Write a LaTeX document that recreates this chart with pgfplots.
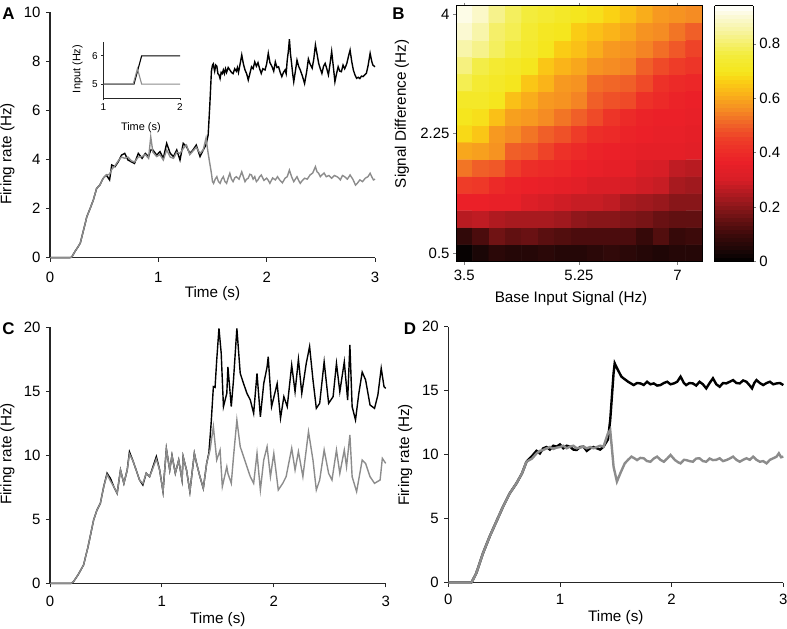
\documentclass[border=0pt]{standalone}
\usepackage{fontspec}
\setmainfont{Liberation Sans}
\usepackage{pgfplots}
\pgfplotsset{compat=1.18}
\pgfkeys{/pgf/number format/assume math mode=true}
\definecolor{tgray}{RGB}{140,140,140}
\pgfplotsset{
  myaxis/.style={scale only axis, anchor=south west, axis lines=left,
    axis line style={-, line width=1.1bp, black!85},
    tick align=outside, major tick length=4bp, tick style={line width=0.9bp, black!85},
    ticklabel style={font=\fontsize{15}{17}\selectfont},
    yticklabel style={xshift=-2bp},
    label style={font=\fontsize{15.3}{18}\selectfont}, clip=false},
}
\begin{document}
\begin{tikzpicture}
\path[use as bounding box] (0,0) rectangle (787bp,629bp);
% ---------------- Panel A
\begin{axis}[myaxis, at={(50bp,371.3bp)}, width=325bp, height=245.4bp,
  xmin=0, xmax=3, ymin=0, ymax=10, xtick={0,1,2,3}, ytick={0,2,4,6,8,10},
  xticklabel style={yshift=-7bp},
  xlabel={Time (s)}, ylabel={Firing rate (Hz)},
  xlabel style={at={(axis description cs:0.5,-0.145)}, anchor=center},
  ylabel style={at={(axis description cs:-0.131,0.423)}, anchor=center}]
\addplot[black, line width=1.4bp] coordinates {
(0,0) (0.18,0) (0.2,0.02) (0.23,0.25) (0.26,0.45) (0.28,0.6) (0.31,1.13) (0.34,1.67) (0.37,2.0) (0.40,2.35) (0.43,2.82) (0.46,2.96) (0.49,3.23) (0.52,3.37)
(0.55,3.17) (0.57,3.78) (0.60,3.71) (0.63,3.91) (0.66,4.18) (0.69,4.25) (0.72,3.98) (0.75,3.91) (0.78,3.84) (0.815,4.25) (0.85,4.05) (0.88,4.25) (0.91,4.12) (0.93,4.39) (0.95,4.39) (0.985,4.18) (1.015,4.32) (1.046,4.05) (1.077,4.66) (1.11,4.25) (1.14,4.12) (1.17,4.39) (1.2,3.98) (1.23,4.66) (1.26,4.53) (1.29,4.25) (1.32,4.39) (1.35,4.59) (1.385,4.12) (1.415,4.39) (1.44,4.6) (1.46,5.0) (1.475,6.2) (1.49,7.6) (1.5,7.85)
(1.508,7.9) (1.515,7.7) (1.52,7.6) (1.53,7.85) (1.54,7.8) (1.55,7.5) (1.56,7.45) (1.57,7.3) (1.58,7.55) (1.59,7.5) (1.60,7.65) (1.61,7.5) (1.62,7.7) (1.63,7.55) (1.645,7.75) (1.66,7.65) (1.675,7.55) (1.69,7.5) (1.705,7.7) (1.72,7.6) (1.73,7.75) (1.74,7.55) (1.755,7.9) (1.77,8.26) (1.785,7.9) (1.80,7.65) (1.815,7.5) (1.83,7.24) (1.845,7.5) (1.86,7.78) (1.875,7.7) (1.89,7.98) (1.905,7.8) (1.92,7.95) (1.935,7.7) (1.95,7.51) (1.965,7.7) (1.985,7.65) (2.0,7.9) (2.015,8.33) (2.03,7.95) (2.05,7.78) (2.065,7.6) (2.08,7.98) (2.095,7.75) (2.11,7.78) (2.125,7.55) (2.14,7.38) (2.155,7.55) (2.17,7.65) (2.18,7.5) (2.19,8.06) (2.2,8.4) (2.21,8.9) (2.22,8.3) (2.23,7.92) (2.24,7.5) (2.25,7.17) (2.265,7.6) (2.28,8.05) (2.295,7.8) (2.31,7.65) (2.33,7.4) (2.35,7.1) (2.37,7.6) (2.385,8.1) (2.40,7.9) (2.42,7.72) (2.435,8.1) (2.45,8.67) (2.465,8.3) (2.48,7.92) (2.495,7.7) (2.51,7.51) (2.525,7.8) (2.54,7.92) (2.555,7.7) (2.57,7.45) (2.585,7.9) (2.60,8.4) (2.615,7.8) (2.63,7.17) (2.645,7.5) (2.66,7.78) (2.675,7.6) (2.69,7.58) (2.705,7.85) (2.72,7.7) (2.73,7.8) (2.74,7.92) (2.755,8.2) (2.77,8.46) (2.785,8.0) (2.80,7.65) (2.815,7.45) (2.83,7.31) (2.845,7.35) (2.86,7.3) (2.875,7.4) (2.89,7.38) (2.905,7.45) (2.92,7.51) (2.935,7.8) (2.955,8.33) (2.97,8.0) (2.98,7.85) (3.0,7.78)};
\addplot[tgray, line width=1.4bp] coordinates {
(0,0) (0.18,0) (0.2,0.02) (0.23,0.25) (0.26,0.45) (0.28,0.6) (0.31,1.13) (0.34,1.67) (0.37,2.0) (0.40,2.35) (0.43,2.82) (0.46,2.96) (0.49,3.23) (0.52,3.37)
(0.55,3.4) (0.57,3.6) (0.60,3.75) (0.63,3.95) (0.66,4.1) (0.69,4.05) (0.72,4.1) (0.75,3.95) (0.78,3.9) (0.815,4.1) (0.85,4.12) (0.88,4.2) (0.91,4.05) (0.93,4.92) (0.95,4.3) (0.985,4.12) (1.015,4.2) (1.046,3.98) (1.077,4.39) (1.11,4.1) (1.14,4.05) (1.17,4.3) (1.2,4.25) (1.23,4.45) (1.26,4.59) (1.29,4.2) (1.32,4.35) (1.35,4.5) (1.385,4.25) (1.415,4.4) (1.44,4.87) (1.46,4.25) (1.49,3.44) (1.50,3.1)
(1.51,3.03) (1.525,3.2) (1.54,3.30) (1.555,3.1) (1.57,3.03) (1.585,3.2) (1.60,3.30) (1.615,3.1) (1.63,3.03) (1.645,3.25) (1.66,3.44) (1.675,3.2) (1.69,3.10) (1.705,3.25) (1.72,3.30) (1.745,3.2) (1.77,3.5) (1.785,3.3) (1.80,3.10) (1.815,3.2) (1.83,3.24) (1.845,3.4) (1.86,3.37) (1.875,3.2) (1.89,3.30) (1.905,3.1) (1.92,3.17) (1.935,3.3) (1.95,3.37) (1.975,3.15) (2.0,3.24) (2.015,3.15) (2.03,3.03) (2.055,3.25) (2.08,3.17) (2.10,3.3) (2.12,3.17) (2.145,3.05) (2.17,3.24) (2.19,3.3) (2.21,3.57) (2.23,3.3) (2.25,3.10) (2.265,3.2) (2.28,3.30) (2.295,3.15) (2.31,3.03) (2.33,3.15) (2.35,3.24) (2.375,3.2) (2.40,3.37) (2.425,3.45) (2.45,3.71) (2.465,3.5) (2.48,3.44) (2.495,3.3) (2.51,3.37) (2.53,3.45) (2.55,3.30) (2.575,3.35) (2.60,3.24) (2.625,3.35) (2.65,3.30) (2.665,3.25) (2.68,3.17) (2.70,3.35) (2.72,3.30) (2.745,3.2) (2.77,3.37) (2.795,3.2) (2.82,2.96) (2.84,3.05) (2.86,3.17) (2.885,3.1) (2.91,3.24) (2.935,3.3) (2.955,3.44) (2.97,3.3) (2.985,3.17) (3.0,3.2)};
\end{axis}
% ---------------- Inset
\begin{axis}[scale only axis, anchor=south west, at={(103.3bp,530.7bp)}, width=76.7bp, height=56.6bp,
  axis lines=left, axis line style={-, line width=0.8bp, black!85}, tick style={line width=0.7bp, black!85},
  xmin=1, xmax=2, ymin=4.5, ymax=6.5, xtick={1,2}, ytick={5,6},
  tick align=outside, major tick length=2bp,
  ticklabel style={font=\fontsize{10}{12}\selectfont},
  label style={font=\fontsize{11}{13}\selectfont},
  xlabel={Time (s)}, ylabel={Input (Hz)},
  xlabel style={at={(axis description cs:0.49,-0.516)}, anchor=center},
  ylabel style={at={(axis description cs:-0.336,0.518)}, anchor=center}, clip=false]
\addplot[black, line width=1.1bp] coordinates {(1,5) (1.4,5) (1.5,6) (2,6)};
\addplot[tgray, line width=1.1bp] coordinates {(1,5) (1.39,5) (1.445,5.55) (1.5,5) (2,5)};
\end{axis}
% ---------------- Panel B
\begin{axis}[scale only axis, anchor=south west, at={(456bp,367.3bp)}, width=246bp, height=256bp,
  xmin=-0.5, xmax=14.5, ymin=-0.5, ymax=14.5, enlargelimits=false, axis on top,
  xtick={0,7,13}, xticklabels={3.5,5.25,7}, ytick={0,7,14}, yticklabels={0.5,2.25,4},
  ytick pos=left, tick align=outside, major tick length=3bp,
  axis line style={line width=0.6bp}, tick style={line width=0.6bp},
  ticklabel style={font=\fontsize{15}{17}\selectfont},
  xticklabel style={yshift=-2bp},
  label style={font=\fontsize{15.3}{18}\selectfont},
  xlabel={Base Input Signal (Hz)}, ylabel={Signal Difference (Hz)},
  xlabel style={at={(axis description cs:0.4675,-0.1445)}, anchor=center},
  ylabel style={at={(axis description cs:-0.2195,0.578)}, anchor=center},
  colormap={heat}{rgb255(0bp)=(0,0,0); rgb255(3bp)=(20,5,5); rgb255(10bp)=(60,10,10); rgb255(18bp)=(120,20,22); rgb255(23bp)=(160,25,30); rgb255(30bp)=(215,30,38); rgb255(37bp)=(235,32,40); rgb255(45bp)=(238,60,40); rgb255(50bp)=(240,95,40); rgb255(56bp)=(245,140,35); rgb255(62bp)=(250,180,25); rgb255(67bp)=(250,210,20); rgb255(70bp)=(245,230,30); rgb255(76bp)=(243,236,60); rgb255(84bp)=(247,243,150); rgb255(91bp)=(252,250,220); rgb255(94bp)=(255,255,255)},
  point meta min=0, point meta max=0.94,
  colorbar sampled,
  colorbar style={at={(parent axis.north east)}, anchor=north west, xshift=4bp,
    scale only axis, width=38.3bp, height=256bp, samples=64,
    ytick={0,0.2,0.4,0.6,0.8}, yticklabel pos=right, ytick pos=right,
    tick align=outside, major tick length=3bp,
    axis line style={line width=0.6bp}, tick style={line width=0.6bp},
    yticklabel style={font=\fontsize{15}{17}\selectfont, /pgf/number format/fixed}}]
\addplot[matrix plot*, mesh/cols=15, point meta=explicit] coordinates {
(0,0)[0.01] (1,0)[0.04] (2,0)[0.07] (3,0)[0.06] (4,0)[0.06] (5,0)[0.07] (6,0)[0.06] (7,0)[0.06] (8,0)[0.07] (9,0)[0.08] (10,0)[0.07] (11,0)[0.06] (12,0)[0.05] (13,0)[0.06] (14,0)[0.06]

(0,1)[0.08] (1,1)[0.12] (2,1)[0.17] (3,1)[0.15] (4,1)[0.16] (5,1)[0.14] (6,1)[0.13] (7,1)[0.12] (8,1)[0.12] (9,1)[0.12] (10,1)[0.12] (11,1)[0.09] (12,1)[0.13] (13,1)[0.09] (14,1)[0.10]

(0,2)[0.26] (1,2)[0.27] (2,2)[0.25] (3,2)[0.24] (4,2)[0.24] (5,2)[0.24] (6,2)[0.23] (7,2)[0.21] (8,2)[0.20] (9,2)[0.20] (10,2)[0.19] (11,2)[0.18] (12,2)[0.16] (13,2)[0.15] (14,2)[0.15]

(0,3)[0.37] (1,3)[0.37] (2,3)[0.36] (3,3)[0.36] (4,3)[0.32] (5,3)[0.30] (6,3)[0.29] (7,3)[0.28] (8,3)[0.28] (9,3)[0.27] (10,3)[0.24] (11,3)[0.23] (12,3)[0.22] (13,3)[0.20] (14,3)[0.20]

(0,4)[0.45] (1,4)[0.44] (2,4)[0.40] (3,4)[0.38] (4,4)[0.37] (5,4)[0.36] (6,4)[0.35] (7,4)[0.34] (8,4)[0.31] (9,4)[0.31] (10,4)[0.30] (11,4)[0.29] (12,4)[0.28] (13,4)[0.24] (14,4)[0.23]

(0,5)[0.53] (1,5)[0.50] (2,5)[0.49] (3,5)[0.45] (4,5)[0.41] (5,5)[0.40] (6,5)[0.39] (7,5)[0.37] (8,5)[0.36] (9,5)[0.35] (10,5)[0.35] (11,5)[0.31] (12,5)[0.30] (13,5)[0.27] (14,5)[0.26]

(0,6)[0.60] (1,6)[0.59] (2,6)[0.57] (3,6)[0.50] (4,6)[0.49] (5,6)[0.46] (6,6)[0.42] (7,6)[0.40] (8,6)[0.38] (9,6)[0.37] (10,6)[0.36] (11,6)[0.35] (12,6)[0.35] (13,6)[0.35] (14,6)[0.34]

(0,7)[0.68] (1,7)[0.65] (2,7)[0.58] (3,7)[0.56] (4,7)[0.53] (5,7)[0.50] (6,7)[0.48] (7,7)[0.45] (8,7)[0.41] (9,7)[0.40] (10,7)[0.38] (11,7)[0.37] (12,7)[0.36] (13,7)[0.36] (14,7)[0.35]

(0,8)[0.70] (1,8)[0.69] (2,8)[0.64] (3,8)[0.59] (4,8)[0.58] (5,8)[0.56] (6,8)[0.53] (7,8)[0.50] (8,8)[0.47] (9,8)[0.43] (10,8)[0.40] (11,8)[0.38] (12,8)[0.37] (13,8)[0.37] (14,8)[0.36]

(0,9)[0.72] (1,9)[0.72] (2,9)[0.70] (3,9)[0.64] (4,9)[0.61] (5,9)[0.58] (6,9)[0.57] (7,9)[0.55] (8,9)[0.50] (9,9)[0.48] (10,9)[0.47] (11,9)[0.42] (12,9)[0.40] (13,9)[0.38] (14,9)[0.37]

(0,10)[0.78] (1,10)[0.74] (2,10)[0.72] (3,10)[0.70] (4,10)[0.65] (5,10)[0.62] (6,10)[0.58] (7,10)[0.57] (8,10)[0.52] (9,10)[0.51] (10,10)[0.50] (11,10)[0.47] (12,10)[0.42] (13,10)[0.40] (14,10)[0.39]

(0,11)[0.82] (1,11)[0.77] (2,11)[0.74] (3,11)[0.72] (4,11)[0.70] (5,11)[0.65] (6,11)[0.62] (7,11)[0.60] (8,11)[0.57] (9,11)[0.56] (10,11)[0.55] (11,11)[0.50] (12,11)[0.47] (13,11)[0.45] (14,11)[0.43]

(0,12)[0.86] (1,12)[0.83] (2,12)[0.79] (3,12)[0.76] (4,12)[0.73] (5,12)[0.70] (6,12)[0.66] (7,12)[0.64] (8,12)[0.61] (9,12)[0.58] (10,12)[0.57] (11,12)[0.55] (12,12)[0.52] (13,12)[0.49] (14,12)[0.46]

(0,13)[0.90] (1,13)[0.86] (2,13)[0.80] (3,13)[0.78] (4,13)[0.74] (5,13)[0.71] (6,13)[0.70] (7,13)[0.66] (8,13)[0.64] (9,13)[0.62] (10,13)[0.60] (11,13)[0.57] (12,13)[0.56] (13,13)[0.53] (14,13)[0.50]

(0,14)[0.92] (1,14)[0.89] (2,14)[0.83] (3,14)[0.79] (4,14)[0.76] (5,14)[0.74] (6,14)[0.72] (7,14)[0.70] (8,14)[0.69] (9,14)[0.67] (10,14)[0.64] (11,14)[0.61] (12,14)[0.58] (13,14)[0.57] (14,14)[0.56]
};
\end{axis}
% ---------------- Panel C
\begin{axis}[myaxis, at={(50bp,45.7bp)}, width=335.7bp, height=256bp,
  xmin=0, xmax=3, ymin=0, ymax=20, xtick={0,1,2,3}, ytick={0,5,10,15,20},
  xticklabel style={yshift=-5bp},
  xlabel={Time (s)}, ylabel={Firing rate (Hz)},
  xlabel style={at={(axis description cs:0.5,-0.141)}, anchor=center},
  ylabel style={at={(axis description cs:-0.1266,0.505)}, anchor=center}]
\addplot[black, line width=1.4bp] coordinates {
(0,0) (0.19,0) (0.21,0.13) (0.25,0.65) (0.30,1.43) (0.34,2.86) (0.39,4.95) (0.42,5.73) (0.45,6.25) (0.48,7.55) (0.51,8.6) (0.54,8.2) (0.57,7.55) (0.60,7.03) (0.63,8.85) (0.66,7.8) (0.69,8.85) (0.71,10.27) (0.74,9.6) (0.77,8.85) (0.80,8.07) (0.83,7.68) (0.86,8.6) (0.89,8.33) (0.92,9.1) (0.95,9.9) (0.98,8.85) (1.01,7.16) (1.04,10.5) (1.07,8.85) (1.09,10.0) (1.12,8.6) (1.15,9.63) (1.18,8.07) (1.19,9.9) (1.22,8.85) (1.25,7.16) (1.29,10.15) (1.31,9.37) (1.34,8.33) (1.37,7.42) (1.40,9.37)
(1.42,10.2) (1.44,12.5) (1.46,15.36) (1.475,15.3) (1.49,17.45) (1.51,19.92) (1.53,17.97) (1.55,13.8) (1.58,14.84) (1.59,16.9) (1.62,13.8) (1.64,15.9) (1.67,19.92) (1.70,16.4) (1.73,15.6) (1.76,14.84) (1.79,14.32) (1.82,13.28) (1.85,16.4) (1.88,13.0) (1.91,15.6) (1.94,16.9) (1.95,17.7) (1.98,13.8) (2.03,15.6) (2.06,12.9) (2.09,14.58) (2.12,13.8) (2.16,17.05) (2.19,14.97) (2.22,17.5) (2.25,14.84) (2.29,17.18) (2.32,18.5) (2.35,15.9) (2.38,13.67) (2.41,14.06) (2.45,17.3) (2.49,14.06) (2.53,14.58) (2.56,17.18) (2.59,14.97) (2.63,17.3) (2.66,14.32) (2.68,18.62) (2.70,13.8) (2.73,12.76) (2.76,14.84) (2.79,16.5) (2.82,15.9) (2.86,13.93) (2.90,13.67) (2.93,14.7) (2.96,16.8) (2.985,15.36) (3.0,15.23)};
\addplot[tgray, line width=1.4bp] coordinates {
(0,0) (0.19,0) (0.21,0.13) (0.25,0.65) (0.30,1.43) (0.34,2.86) (0.39,4.95) (0.42,5.73) (0.45,6.25) (0.48,7.55) (0.51,8.5) (0.54,8.0) (0.57,7.55) (0.60,7.03) (0.63,8.85) (0.66,7.8) (0.69,8.85) (0.71,10.1) (0.74,9.6) (0.77,8.85) (0.80,8.07) (0.83,7.8) (0.86,8.6) (0.89,8.33) (0.92,9.0) (0.95,9.7) (0.98,8.85) (1.01,7.16) (1.04,10.5) (1.07,8.85) (1.09,10.0) (1.12,8.6) (1.15,9.63) (1.18,8.07) (1.19,9.9) (1.22,8.85) (1.25,7.16) (1.29,10.15) (1.31,9.37) (1.34,8.33) (1.37,7.42) (1.40,9.37)
(1.43,10.42) (1.46,12.24) (1.49,9.63) (1.52,10.41) (1.54,7.55) (1.58,9.11) (1.59,8.59) (1.62,7.81) (1.64,9.89) (1.67,12.76) (1.70,10.67) (1.73,9.9) (1.76,9.11) (1.79,8.33) (1.82,7.81) (1.85,10.15) (1.88,7.29) (1.91,9.63) (1.94,10.67) (1.97,8.33) (2.0,10.15) (2.04,7.29) (2.08,7.81) (2.11,8.33) (2.16,10.55) (2.19,8.85) (2.22,10.29) (2.26,8.33) (2.31,11.85) (2.35,9.63) (2.38,7.29) (2.41,8.07) (2.45,10.42) (2.49,8.59) (2.52,8.07) (2.56,10.41) (2.59,8.59) (2.63,10.41) (2.65,9.11) (2.68,11.59) (2.70,8.33) (2.74,7.16) (2.79,9.63) (2.82,9.37) (2.86,8.33) (2.90,7.81) (2.95,8.07) (2.97,9.76) (3.0,9.37)};
\end{axis}
% ---------------- Panel D
\begin{axis}[myaxis, at={(448.3bp,46.3bp)}, width=335bp, height=256bp,
  xmin=0, xmax=3, ymin=0, ymax=20, xtick={0,1,2,3}, ytick={0,5,10,15,20},
  xticklabel style={yshift=-4bp},
  xlabel={Time (s)}, ylabel={Firing rate (Hz)},
  xlabel style={at={(axis description cs:0.5,-0.138)}, anchor=center},
  ylabel style={at={(axis description cs:-0.129,0.499)}, anchor=center}]
\addplot[black, line width=2.4bp] coordinates {
(0,0) (0.2,0) (0.21,0.05) (0.25,0.73) (0.31,2.29) (0.37,3.6) (0.43,4.77) (0.49,5.94) (0.55,6.98) (0.61,7.76) (0.66,8.54) (0.70,9.45) (0.75,9.9) (0.79,10.3) (0.82,10.1) (0.85,10.5) (0.88,10.6) (0.91,10.4) (0.94,10.7) (0.97,10.63) (1.0,10.8) (1.03,10.5) (1.06,10.7) (1.09,10.63) (1.12,10.4) (1.15,10.37) (1.18,10.6) (1.21,10.63) (1.24,10.3) (1.27,10.5) (1.30,10.6) (1.33,10.5) (1.36,10.4) (1.39,10.63)
(1.43,11.2) (1.45,12.71) (1.48,16.36) (1.49,17.14) (1.52,16.6) (1.55,16.1) (1.57,15.96) (1.61,15.7) (1.66,15.44) (1.69,15.6) (1.72,15.57) (1.75,15.45) (1.78,15.7) (1.81,15.5) (1.84,15.57) (1.87,15.4) (1.90,15.44) (1.93,15.6) (1.96,15.7) (1.99,15.5) (2.02,15.57) (2.05,15.7) (2.08,16.1) (2.11,15.6) (2.13,15.44) (2.16,15.6) (2.19,15.57) (2.22,15.4) (2.25,15.7) (2.28,15.5) (2.31,15.18) (2.34,15.6) (2.37,15.97) (2.40,15.5) (2.43,15.31) (2.46,15.6) (2.49,15.57) (2.52,15.7) (2.55,15.83) (2.58,15.6) (2.61,15.57) (2.64,15.8) (2.67,15.7) (2.70,15.4) (2.72,15.18) (2.74,15.6) (2.76,15.83) (2.79,15.6) (2.82,15.44) (2.85,15.6) (2.88,15.7) (2.91,15.5) (2.94,15.57) (2.97,15.6) (3.0,15.44)};
\addplot[tgray, line width=2.4bp] coordinates {
(0,0) (0.2,0) (0.21,0.05) (0.25,0.73) (0.31,2.29) (0.37,3.6) (0.43,4.77) (0.49,5.94) (0.55,6.98) (0.61,7.76) (0.66,8.54) (0.70,9.45) (0.75,9.7) (0.79,10.1) (0.82,10.3) (0.85,10.37) (0.88,10.5) (0.91,10.6) (0.94,10.45) (0.97,10.55) (1.0,10.6) (1.03,10.7) (1.06,10.5) (1.09,10.63) (1.12,10.7) (1.15,10.5) (1.18,10.55) (1.21,10.63) (1.24,10.5) (1.27,10.6) (1.30,10.5) (1.33,10.6) (1.36,10.7) (1.39,10.63)
(1.43,11.67) (1.45,11.93) (1.48,9.06) (1.51,7.9) (1.54,8.54) (1.58,9.32) (1.61,9.6) (1.64,9.85) (1.67,9.7) (1.69,9.58) (1.72,9.75) (1.75,9.72) (1.78,9.5) (1.81,9.45) (1.84,9.7) (1.87,9.85) (1.90,9.6) (1.93,9.45) (1.96,9.7) (1.99,9.98) (2.03,9.58) (2.06,9.4) (2.08,9.32) (2.11,9.6) (2.13,9.58) (2.16,9.5) (2.19,9.45) (2.22,9.7) (2.25,9.72) (2.28,9.5) (2.31,9.45) (2.34,9.7) (2.37,9.58) (2.40,9.6) (2.43,9.72) (2.46,9.5) (2.49,9.58) (2.52,9.7) (2.55,9.85) (2.58,9.6) (2.61,9.45) (2.64,9.6) (2.67,9.72) (2.70,9.6) (2.73,9.85) (2.76,9.6) (2.79,9.45) (2.82,9.5) (2.85,9.32) (2.88,9.6) (2.91,9.72) (2.94,9.85) (2.96,10.11) (2.98,9.8) (3.0,9.85)};
\end{axis}
% ---------------- Panel letters
\node[font=\bfseries\fontsize{17}{20}\selectfont] at (8.5bp,615bp) {A};
\node[font=\bfseries\fontsize{17}{20}\selectfont] at (398.5bp,615bp) {B};
\node[font=\bfseries\fontsize{17}{20}\selectfont] at (8.5bp,300bp) {C};
\node[font=\bfseries\fontsize{17}{20}\selectfont] at (410bp,300bp) {D};
\end{tikzpicture}
\end{document}
